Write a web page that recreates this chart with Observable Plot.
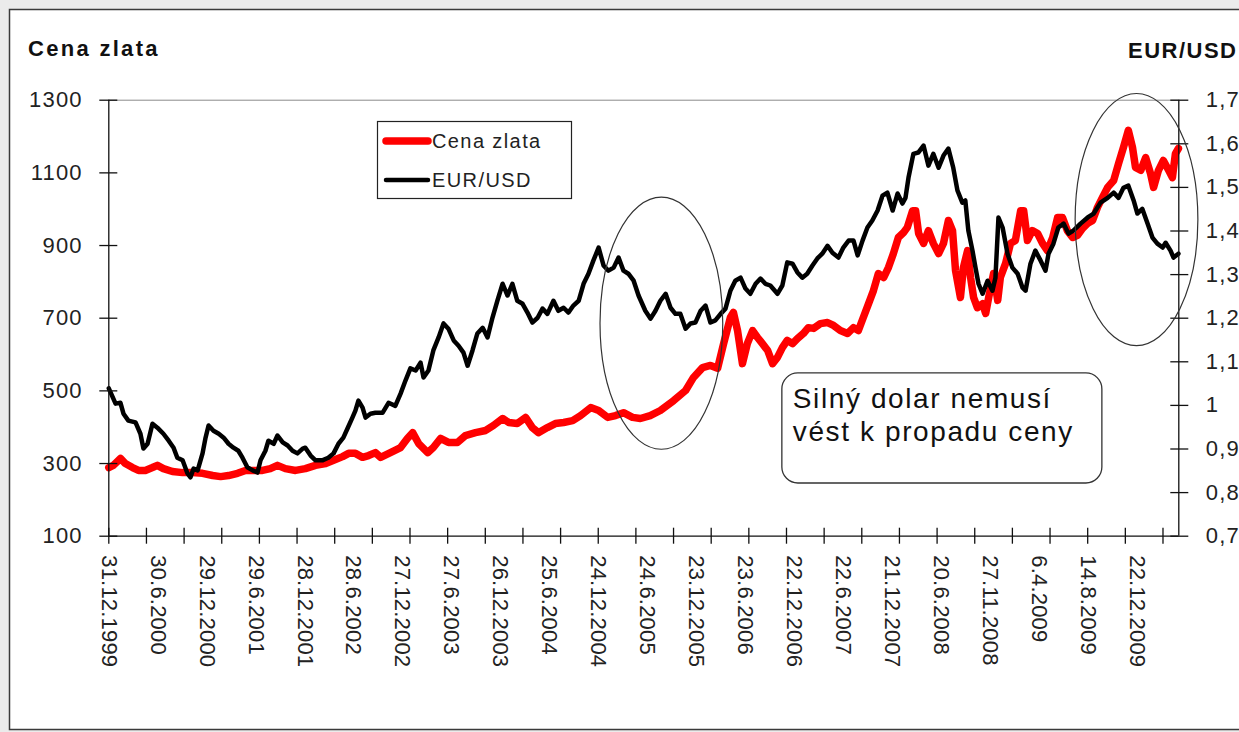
<!DOCTYPE html>
<html><head><meta charset="utf-8">
<script src="https://cdn.jsdelivr.net/npm/d3@7"></script>
<script src="https://cdn.jsdelivr.net/npm/@observablehq/plot@0.6"></script>
<style>
html,body{margin:0;padding:0;background:#ebebeb;overflow:hidden;}
#chart{position:relative;width:1239px;height:732px;overflow:hidden;}
#chart svg{display:block;}
</style></head><body><div id="chart"></div>
<script>
// trading-day index of each reading (category axis, one category per day)
const dayGold = [0,12,31,44,63,79,97,116,129,145,169,196,222,249,276,297,318,342,363,384,408,429,448,469,496,522,549,576,602,621,637,655,674,690,708,722,748,775,793,807,823,847,862,881,902,926,947,974,1001,1022,1046,1062,1085,1107,1125,1141,1165,1186,1208,1232,1253,1280,1301,1325,1346,1367,1391,1412,1438,1465,1500,1532,1553,1577,1598,1617,1633,1651,1659,1670,1683,1696,1710,1723,1736,1750,1763,1776,1789,1802,1816,1829,1845,1858,1872,1890,1909,1925,1943,1962,1978,1991,2004,2018,2031,2044,2058,2071,2084,2097,2111,2121,2135,2143,2151,2164,2177,2190,2204,2217,2230,2241,2249,2262,2270,2281,2289,2297,2307,2321,2329,2337,2350,2361,2368,2382,2395,2408,2422,2430,2440,2453,2467,2480,2493,2507,2520,2533,2546,2560,2573,2586,2600,2613,2626,2639,2653,2669,2682,2695,2708,2719,2727,2741,2754,2767,2775,2788,2801,2815,2825,2833,2841];
const gold = [289,295,314,300,289,281,281,289,295,286,278,275,275,273,267,264,267,273,281,281,281,286,295,286,281,286,295,300,311,319,328,328,317,322,330,317,330,344,369,385,355,330,344,369,358,358,377,385,391,405,424,413,410,427,399,385,399,410,413,418,432,454,446,427,432,440,427,424,432,446,473,501,537,564,570,562,630,702,716,666,575,630,666,647,630,611,575,592,619,639,630,644,658,674,672,685,688,680,666,658,674,666,702,740,776,823,812,840,878,922,936,950,996,996,933,906,941,906,878,906,969,941,831,757,840,886,812,757,729,740,713,757,823,749,812,851,906,914,996,996,914,941,933,906,886,922,977,977,941,922,928,947,961,969,1005,1032,1060,1079,1126,1170,1217,1170,1115,1107,1142,1098,1060,1107,1134,1107,1087,1153,1167];

const dayEur = [0,18,31,39,52,71,84,92,103,116,129,145,159,172,182,196,209,217,225,236,249,257,265,278,292,305,318,331,344,355,368,382,395,403,416,424,438,448,462,475,488,501,515,522,536,549,567,583,597,610,623,634,647,655,663,674,682,695,708,727,743,761,775,788,801,815,828,836,849,862,876,889,902,916,929,942,953,966,979,993,1006,1019,1032,1046,1059,1072,1085,1099,1112,1125,1139,1152,1165,1181,1194,1208,1221,1234,1248,1261,1274,1287,1301,1314,1327,1341,1354,1367,1380,1394,1407,1425,1439,1452,1465,1479,1492,1505,1518,1532,1545,1558,1572,1585,1598,1611,1625,1638,1651,1664,1678,1691,1704,1718,1731,1744,1757,1776,1789,1802,1816,1829,1842,1855,1869,1882,1895,1909,1922,1938,1951,1965,1978,1989,2002,2015,2028,2042,2055,2068,2082,2095,2108,2116,2124,2137,2150,2164,2177,2190,2204,2217,2230,2243,2254,2267,2275,2283,2294,2302,2310,2321,2334,2347,2355,2363,2374,2387,2400,2414,2427,2435,2448,2461,2475,2488,2496,2509,2522,2536,2549,2562,2581,2600,2616,2634,2653,2669,2682,2695,2708,2722,2732,2745,2759,2772,2785,2799,2807,2820,2828,2841];
const eur = [1.039,1.004,1.006,0.981,0.965,0.961,0.935,0.901,0.912,0.958,0.949,0.935,0.919,0.903,0.880,0.874,0.844,0.835,0.855,0.851,0.890,0.926,0.954,0.942,0.935,0.926,0.912,0.903,0.896,0.880,0.858,0.851,0.846,0.874,0.896,0.919,0.912,0.931,0.915,0.908,0.896,0.890,0.901,0.903,0.885,0.874,0.874,0.880,0.890,0.912,0.926,0.947,0.972,0.988,1.011,0.995,0.972,0.981,0.983,0.983,1.006,0.999,1.027,1.057,1.085,1.080,1.098,1.064,1.080,1.126,1.156,1.188,1.176,1.149,1.137,1.121,1.091,1.126,1.165,1.178,1.156,1.201,1.240,1.279,1.252,1.279,1.240,1.233,1.213,1.190,1.201,1.222,1.210,1.240,1.217,1.224,1.213,1.229,1.240,1.279,1.302,1.332,1.362,1.321,1.309,1.316,1.339,1.309,1.302,1.286,1.252,1.217,1.199,1.217,1.240,1.256,1.224,1.210,1.210,1.176,1.188,1.190,1.217,1.229,1.190,1.195,1.210,1.222,1.263,1.286,1.293,1.268,1.256,1.279,1.291,1.279,1.275,1.256,1.275,1.328,1.325,1.305,1.293,1.302,1.321,1.337,1.348,1.366,1.350,1.339,1.362,1.378,1.378,1.344,1.378,1.408,1.424,1.447,1.481,1.488,1.447,1.486,1.463,1.476,1.522,1.577,1.580,1.596,1.550,1.577,1.545,1.573,1.589,1.545,1.493,1.465,1.470,1.401,1.355,1.316,1.279,1.256,1.286,1.263,1.293,1.431,1.408,1.348,1.316,1.302,1.270,1.263,1.325,1.355,1.332,1.309,1.348,1.371,1.408,1.417,1.394,1.401,1.417,1.431,1.440,1.465,1.476,1.488,1.476,1.499,1.504,1.470,1.440,1.451,1.417,1.385,1.371,1.362,1.373,1.355,1.339,1.348];

const dateLabels = ["31.12.1999","30.6.2000","29.12.2000","29.6.2001","28.12.2001","28.6.2002","27.12.2002","27.6.2003","26.12.2003","25.6.2004","24.12.2004","24.6.2005","23.12.2005","23.6.2006","22.12.2006","22.6.2007","21.12.2007","20.6.2008","27.11.2008","6.4.2009","14.8.2009","22.12.2009"];
const labelStep = 130;   // a date label every 130 categories
const tickStep = 100;    // a tick mark every 100 categories
const lastDay = 2842;
const goldTicks = [100,300,500,700,900,1100,1300];
const eurTicks = [0.7,0.8,0.9,1.0,1.1,1.2,1.3,1.4,1.5,1.6,1.7];

const seriesNames = ["Cena zlata","EUR/USD"];
const seriesColors = ["#ff0000","#000000"];
const noteText = ["Silný dolar nemusí","vést k propadu ceny"];

// right axis (EUR/USD 0.7–1.7) shares the frame with the left axis (100–1300)
const eurToGold = e => 100 + (e - 0.7) * 1200;
const goldToEur = g => Math.round(((g - 100) / 1200 + 0.7) * 10) / 10;

const goldData = dayGold.map((d, i) => ({day: d, v: gold[i]}));
const eurData = dayEur.map((d, i) => ({day: d, v: eur[i]}));

const FONT = "'Liberation Sans', Arial, sans-serif";
const W = 1239, H = 732;
const chart = Plot.plot({
  width: W, height: H,
  marginLeft: 108.3, marginRight: 60.7, marginTop: 99.7, marginBottom: 196.3,
  style: {background: "transparent", fontFamily: FONT, overflow: "visible"},
  x: {domain: [0, lastDay]},
  y: {domain: [100, 1300]},
  marks: [
    Plot.ruleY([1300], {stroke: "#8a8a8a", strokeWidth: 1}),
    Plot.lineY(goldData, {x: "day", y: "v", stroke: seriesColors[0], strokeWidth: 7.5, strokeLinejoin: "round", strokeLinecap: "round"}),
    Plot.lineY(eurData, {x: "day", y: d => eurToGold(d.v), stroke: seriesColors[1], strokeWidth: 4.5, strokeLinejoin: "round", strokeLinecap: "round"}),
    Plot.ruleX([0], {stroke: "#111", strokeWidth: 1.3}),
    Plot.ruleX([lastDay], {stroke: "#111", strokeWidth: 1.3}),
    Plot.ruleY([100], {stroke: "#111", strokeWidth: 1.3}),
    Plot.axisY({anchor: "left", ticks: goldTicks, tickSize: 18, dx: 9, tickPadding: 17, fontSize: 22, stroke: "#111", fill: "#222", strokeWidth: 1.3, tickFormat: d => String(d), label: null}),
    Plot.axisY({anchor: "right", ticks: eurTicks.map(eurToGold), tickSize: 18, dx: -9, tickPadding: 18, fontSize: 22, stroke: "#111", fill: "#222", strokeWidth: 1.3, tickFormat: d => String(goldToEur(d)).replace(".", ","), label: null}),
    Plot.axisX({anchor: "bottom", ticks: d3.range(0, lastDay, tickStep), tickSize: 16, dy: -8, stroke: "#111", strokeWidth: 1.3, tickFormat: () => "", label: null}),
    Plot.text(dateLabels, {x: (d, i) => i * labelStep, text: d => d, frameAnchor: "bottom", rotate: 90, textAnchor: "start", lineAnchor: "middle", dy: 19, fontSize: 22, fill: "#222"})
  ]
});
document.getElementById("chart").appendChild(chart);

const svg = d3.select(chart);
const sx = chart.scale("x"), sy = chart.scale("y");

// slightly wider digit spacing on the tick labels, like the original
svg.selectAll('g[aria-label="y-axis tick label"] text').attr("letter-spacing", 1.2);
svg.selectAll('g[aria-label="text"] text').attr("letter-spacing", 0.2);

// outer frame
svg.insert("rect", ":first-child")
  .attr("x", 9.5).attr("y", 9.5).attr("width", 1300).attr("height", 720)
  .attr("fill", "#fff").attr("stroke", "#3a3a3a").attr("stroke-width", 1.5);

const addText = (g, x, y, t, size, opts = {}) => g.append("text")
  .attr("x", x).attr("y", y).text(t)
  .attr("text-anchor", "start")
  .attr("font-family", FONT).attr("font-size", size)
  .attr("font-weight", opts.bold ? "bold" : "normal")
  .attr("letter-spacing", opts.ls || 0)
  .attr("fill", opts.fill || "#111");

// axis titles
addText(svg, 28, 56, "Cena zlata", 22, {bold: true, ls: 2.3});
addText(svg, 1128, 58, "EUR/USD", 22, {bold: true, ls: 1.5});

// legend
const lg = svg.append("g");
lg.append("rect").attr("x", 377.5).attr("y", 121.5).attr("width", 194).attr("height", 77)
  .attr("fill", "#fff").attr("stroke", "#222").attr("stroke-width", 1.2);
[[141, 7.5], [180, 4.5]].forEach(([yy, sw], i) => {
  lg.append("line").attr("x1", 386).attr("x2", 428).attr("y1", yy).attr("y2", yy)
    .attr("stroke", seriesColors[i]).attr("stroke-width", sw).attr("stroke-linecap", "round");
  addText(lg, 432, yy + 7, seriesNames[i], 20, {ls: 1.4, fill: "#222"});
});

// ellipses around the two periods (placed in data space)
const circles = [{day: 1469, g: 685}, {day: 2731, g: 970}];
const halfDays = 163, halfGold = 347;
circles.forEach(c => {
  const cx = sx.apply(c.day), cy = sy.apply(c.g);
  svg.append("ellipse").attr("cx", cx).attr("cy", cy)
    .attr("rx", sx.apply(c.day + halfDays) - cx).attr("ry", cy - sy.apply(c.g + halfGold))
    .attr("fill", "none").attr("stroke", "#333").attr("stroke-width", 1.2);
});

// note box
const bx0 = sx.apply(1789), bx1 = sx.apply(2639), by0 = sy.apply(548), by1 = sy.apply(245);
svg.append("rect").attr("x", bx0).attr("y", by0).attr("width", bx1 - bx0).attr("height", by1 - by0)
  .attr("rx", 16).attr("ry", 16).attr("fill", "#fff").attr("stroke", "#333").attr("stroke-width", 1.3);
noteText.forEach((t, i) => addText(svg, bx0 + 11, by0 + 35 + i * 33, t, 28, {ls: 1.6}));
</script>
</body></html>
